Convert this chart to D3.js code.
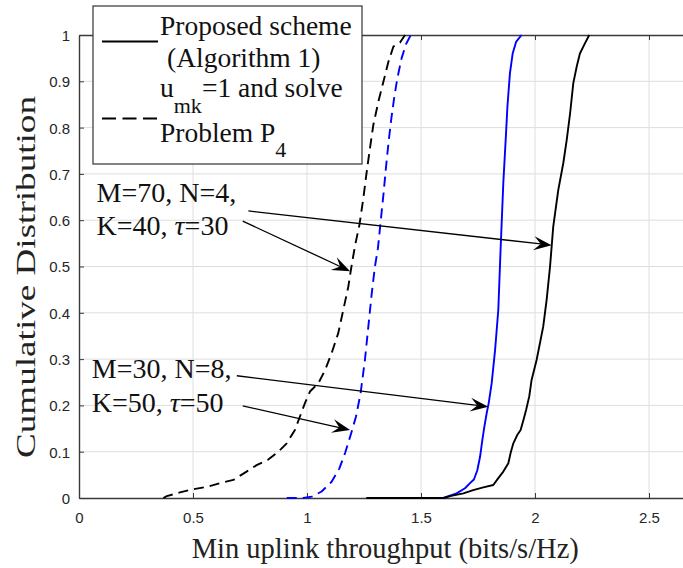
<!DOCTYPE html>
<html>
<head>
<meta charset="utf-8">
<script src="https://cdn.jsdelivr.net/npm/d3@7/dist/d3.min.js"></script>
<style>
  html, body { margin: 0; padding: 0; background: #fff; overflow: hidden; }
  svg { display: block; }
</style>
</head>
<body>
<script>
// Empirical CDFs of the minimum uplink throughput
// Config A: M=70, N=4, K=40, tau=30 (black); Config B: M=30, N=8, K=50, tau=50 (blue)
const propAX = [1.26, 1.60, 1.627, 1.686, 1.729, 1.773, 1.817, 1.839, 1.861, 1.883, 1.893, 1.905, 1.922, 1.937, 1.949, 1.961, 1.975, 1.985, 2.007, 2.036, 2.051, 2.066, 2.080, 2.102, 2.124, 2.139, 2.154, 2.168, 2.183, 2.197, 2.219, 2.238];
const propAY = [0, 0, 0.004, 0.010, 0.017, 0.023, 0.028, 0.043, 0.057, 0.075, 0.097, 0.118, 0.136, 0.147, 0.168, 0.190, 0.220, 0.255, 0.298, 0.370, 0.428, 0.500, 0.586, 0.665, 0.723, 0.773, 0.831, 0.896, 0.932, 0.960, 0.982, 1.0];

const propBX = [1.598, 1.656, 1.693, 1.715, 1.732, 1.747, 1.759, 1.769, 1.778, 1.788, 1.797, 1.810, 1.825, 1.839, 1.849, 1.861, 1.873, 1.879, 1.890, 1.902, 1.917, 1.941];
const propBY = [0, 0.010, 0.021, 0.032, 0.040, 0.060, 0.089, 0.125, 0.154, 0.183, 0.205, 0.248, 0.320, 0.406, 0.536, 0.680, 0.788, 0.845, 0.917, 0.960, 0.985, 1.0];

const baseAX = [0.370, 0.385, 0.443, 0.501, 0.560, 0.618, 0.677, 0.735, 0.779, 0.830, 0.874, 0.911, 0.947, 0.969, 0.991, 1.013, 1.050, 1.079, 1.108, 1.137, 1.159, 1.181, 1.196, 1.211, 1.230, 1.247, 1.262, 1.276, 1.291, 1.313, 1.335, 1.357, 1.379, 1.408, 1.430];
const baseAY = [0, 0.004, 0.012, 0.019, 0.024, 0.032, 0.039, 0.057, 0.071, 0.083, 0.100, 0.118, 0.147, 0.176, 0.205, 0.230, 0.248, 0.276, 0.313, 0.356, 0.406, 0.456, 0.503, 0.546, 0.590, 0.647, 0.705, 0.755, 0.806, 0.856, 0.899, 0.942, 0.975, 0.984, 1.0];

const baseBX = [0.911, 0.984, 1.021, 1.064, 1.108, 1.142, 1.167, 1.189, 1.215, 1.235, 1.254, 1.269, 1.284, 1.298, 1.311, 1.323, 1.335, 1.346, 1.358, 1.370, 1.382, 1.396, 1.415, 1.434, 1.455];
const baseBY = [0, 0, 0.003, 0.014, 0.035, 0.064, 0.097, 0.132, 0.176, 0.226, 0.298, 0.370, 0.442, 0.500, 0.539, 0.597, 0.654, 0.712, 0.770, 0.820, 0.863, 0.906, 0.950, 0.980, 1.0];

const xTicks = [0, 0.5, 1, 1.5, 2, 2.5];
const xTickLabels = ["0", "0.5", "1", "1.5", "2", "2.5"];
const yTicks = [0, 0.1, 0.2, 0.3, 0.4, 0.5, 0.6, 0.7, 0.8, 0.9, 1];
const yTickLabels = ["0", "0.1", "0.2", "0.3", "0.4", "0.5", "0.6", "0.7", "0.8", "0.9", "1"];

const W = 683, H = 568;
const margin = { left: 79, top: 35 };
const plotW = 684, plotH = 463;

const serif = "'Liberation Serif', 'Times New Roman', serif";
const sans = "'Liberation Sans', Arial, Helvetica, sans-serif";

const svg = d3.select("body").append("svg")
  .attr("width", W).attr("height", H)
  .attr("viewBox", `0 0 ${W} ${H}`);

const x = d3.scaleLinear().domain([0, 3]).range([margin.left, margin.left + plotW]);
const y = d3.scaleLinear().domain([0, 1]).range([margin.top + plotH, margin.top]);

// grid
const grid = svg.append("g");
grid.selectAll("line.gx").data(xTicks.slice(1)).join("line")
  .attr("x1", d => x(d)).attr("x2", d => x(d))
  .attr("y1", y(0)).attr("y2", y(1))
  .attr("stroke", "#dedede").attr("stroke-width", 1);
grid.selectAll("line.gy").data(yTicks.slice(1, -1)).join("line")
  .attr("x1", x(0)).attr("x2", x(3))
  .attr("y1", d => y(d)).attr("y2", d => y(d))
  .attr("stroke", "#dedede").attr("stroke-width", 1);

// axes (box with inward ticks)
const axisColor = "#3a3a3a";
const gx = svg.append("g").attr("transform", `translate(0,${y(0)})`)
  .call(d3.axisBottom(x).tickValues(xTicks).tickFormat((d, i) => xTickLabels[i])
    .tickSizeInner(-5).tickSizeOuter(0).tickPadding(14));
const gy = svg.append("g").attr("transform", `translate(${x(0)},0)`)
  .call(d3.axisLeft(y).tickValues(yTicks).tickFormat((d, i) => yTickLabels[i])
    .tickSizeInner(-5).tickSizeOuter(0).tickPadding(9));
const gxTop = svg.append("g").attr("transform", `translate(0,${y(1)})`)
  .call(d3.axisTop(x).tickValues(xTicks).tickFormat("").tickSizeInner(-5).tickSizeOuter(0));
[gx, gy, gxTop].forEach(g => {
  g.select(".domain").attr("stroke", axisColor).attr("stroke-width", 1.4);
  g.selectAll(".tick line").attr("stroke", axisColor).attr("stroke-width", 1);
  g.selectAll(".tick text").attr("fill", "#262626")
    .style("font-family", sans).style("font-size", "15px");
});
gy.selectAll(".tick text").attr("dy", "0.36em");

// curves
const line = d3.line().x(d => x(d[0])).y(d => y(d[1]));
const series = [
  { xs: baseBX, ys: baseBY, color: "#0000ff", dash: "10,6" },
  { xs: baseAX, ys: baseAY, color: "#000000", dash: "10,6" },
  { xs: propBX, ys: propBY, color: "#0000ff", dash: null },
  { xs: propAX, ys: propAY, color: "#000000", dash: null }
];
series.forEach(s => {
  svg.append("path")
    .datum(d3.zip(s.xs, s.ys))
    .attr("d", line)
    .attr("fill", "none")
    .attr("stroke", s.color)
    .attr("stroke-width", 1.9)
    .attr("stroke-linejoin", "round")
    .attr("stroke-dasharray", s.dash);
});

// annotation arrows: [tail, tip] in data units
const arrows = [
  [[0.743, 0.620], [2.073, 0.546]],
  [[0.718, 0.598], [1.189, 0.490]],
  [[0.692, 0.264], [1.795, 0.197]],
  [[0.718, 0.199], [1.189, 0.147]]
];
const headLen = 18, headNotch = 11, headHalf = 7;
arrows.forEach(([t, p]) => {
  const tx = x(t[0]), ty = y(t[1]), px = x(p[0]), py = y(p[1]);
  const len = Math.hypot(px - tx, py - ty);
  const ux = (px - tx) / len, uy = (py - ty) / len;
  const nx = -uy, ny = ux;
  const nxP = px - headNotch * ux, nyP = py - headNotch * uy;
  svg.append("line")
    .attr("x1", tx).attr("y1", ty).attr("x2", nxP).attr("y2", nyP)
    .attr("stroke", "#000").attr("stroke-width", 1.3);
  const bx = px - headLen * ux, by = py - headLen * uy;
  svg.append("path")
    .attr("d", `M${px},${py}L${bx + headHalf * nx},${by + headHalf * ny}L${nxP},${nyP}L${bx - headHalf * nx},${by - headHalf * ny}Z`)
    .attr("fill", "#000");
});

// annotation text
const notes = [
  { x: 0.077, y: 0.640, parts: [["M=70, N=4,", false]] },
  { x: 0.077, y: 0.568, parts: [["K=40, ", false], ["τ", true], ["=30", false]] },
  { x: 0.056, y: 0.2585, parts: [["M=30, N=8,", false]] },
  { x: 0.056, y: 0.186, parts: [["K=50, ", false], ["τ", true], ["=50", false]] }
];
notes.forEach(n => {
  const t = svg.append("text")
    .attr("x", x(n.x)).attr("y", y(n.y))
    .style("font-family", serif).style("font-size", "28px").attr("fill", "#111");
  n.parts.forEach(([s, it]) => t.append("tspan").text(s).style("font-style", it ? "italic" : "normal"));
});

// axis titles
svg.append("text")
  .attr("x", 191.7).attr("y", 558)
  .style("font-family", serif).style("font-size", "28.5px").attr("fill", "#222")
  .text("Min uplink throughput (bits/s/Hz)");
svg.append("text")
  .attr("transform", "translate(35,277) rotate(-90)")
  .attr("text-anchor", "middle")
  .attr("textLength", 362).attr("lengthAdjust", "spacingAndGlyphs")
  .style("font-family", serif).style("font-size", "28px").attr("fill", "#222")
  .text("Cumulative Distribution");

// legend
const lg = svg.append("g");
lg.append("rect")
  .attr("x", 93).attr("y", 6).attr("width", 269).attr("height", 158)
  .attr("fill", "#fff").attr("stroke", "#333").attr("stroke-width", 1.2);
lg.append("line").attr("x1", 102).attr("x2", 158).attr("y1", 41.5).attr("y2", 41.5)
  .attr("stroke", "#000").attr("stroke-width", 1.9);
lg.append("line").attr("x1", 102).attr("x2", 158).attr("y1", 118.5).attr("y2", 118.5)
  .attr("stroke", "#000").attr("stroke-width", 1.9).attr("stroke-dasharray", "14,6.5");
const legText = (tx, ty) => lg.append("text").attr("x", tx).attr("y", ty)
  .style("font-family", serif).style("font-size", "27.5px").attr("fill", "#111");
legText(160, 34.5).text("Proposed scheme");
legText(167, 67).text("(Algorithm 1)");
const l3 = legText(160, 96.7);
l3.append("tspan").text("u");
l3.append("tspan").attr("dy", 16.5).style("font-size", "22px").text("mk");
l3.append("tspan").attr("dy", -16.5).text("=1 and solve");
const l4 = legText(160, 141.7);
l4.append("tspan").text("Problem P");
l4.append("tspan").attr("dy", 15).style("font-size", "22px").text("4");
</script>
</body>
</html>
